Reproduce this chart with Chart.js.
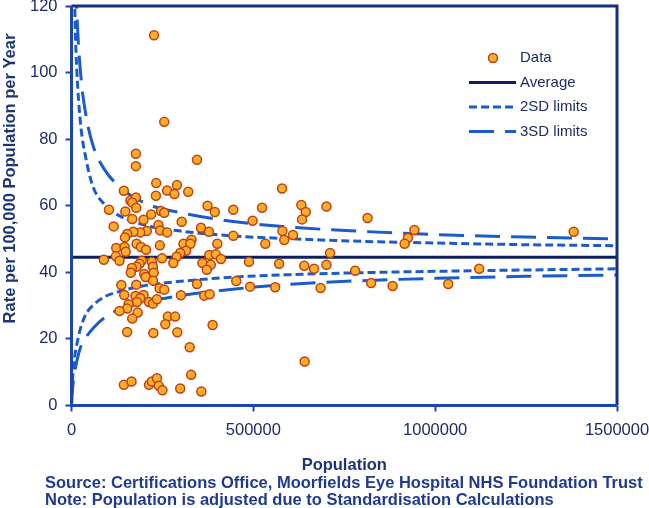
<!DOCTYPE html>
<html lang="en">

<head>
    <title>Funnel Plot</title>
    <script src="https://cdn.jsdelivr.net/npm/chart.js"></script>
    <style>
        html, body { margin: 0; padding: 0; background: #fff; }
    </style>
</head>

<body>
    <canvas id="myChart" width="649" height="508"></canvas>

    <script type="text/javascript">

        // observed points (population, rate per 100,000)
        const populations = [
            227000, 255000, 177000, 177000, 345000, 233000, 290000, 144000, 263000, 283000,
            321000, 232000, 162000, 177000, 167000, 178000, 103000, 148000, 246000, 255000,
            219000, 374000, 394000, 445000, 524000, 498000, 167000, 198000, 303000, 116000,
            239000, 356000, 378000, 244000, 263000, 207000, 189000, 170000, 153000, 147000,
            445000, 330000, 308000, 327000, 401000, 533000, 179000, 191000, 205000, 243000,
            123000, 146000, 149000, 315000, 299000, 122000, 289000, 379000, 397000, 411000,
            89000, 132000, 193000, 221000, 249000, 280000, 360000, 383000, 488000, 187000,
            179000, 166000, 163000, 224000, 226000, 200000, 204000, 372000, 579000, 632000,
            644000, 701000, 634000, 814000, 580000, 609000, 585000, 943000, 925000, 916000,
            711000, 571000, 640000, 667000, 701000, 780000, 1381000, 1121000, 491000, 560000,
            685000, 824000, 883000, 1036000, 224000, 137000, 178000, 145000, 176000, 198000,
            189000, 180000, 157000, 153000, 132000, 213000, 224000, 235000, 242000, 255000,
            345000, 301000, 365000, 380000, 453000, 182000, 167000, 265000, 285000, 258000,
            388000, 153000, 225000, 291000, 325000, 641000, 329000, 144000, 165000, 213000,
            221000, 235000, 240000, 250000, 299000, 357000
        ];
        const rates = [
            111.2, 85.2, 75.6, 71.9, 73.8, 66.8, 66.2, 64.5, 64.6, 63.5,
            64.2, 63.0, 61.6, 62.5, 61.0, 59.4, 58.8, 58.3, 58.4, 57.9,
            57.4, 60.0, 58.1, 58.8, 59.4, 55.5, 56.0, 55.8, 55.2, 53.8,
            54.2, 53.4, 52.2, 52.6, 52.0, 52.4, 52.0, 52.2, 51.5, 50.5,
            51.0, 49.8, 48.6, 48.6, 48.6, 48.6, 48.6, 47.6, 46.8, 48.1,
            47.3, 47.6, 46.2, 46.5, 45.8, 44.8, 44.7, 45.2, 45.4, 44.0,
            43.8, 43.5, 43.5, 43.2, 44.2, 42.8, 42.8, 42.3, 43.2, 42.6,
            41.7, 41.3, 39.9, 41.7, 39.9, 39.5, 38.6, 40.8, 65.2, 60.2,
            58.1, 59.8, 55.9, 56.3, 52.4, 51.2, 49.7, 52.7, 50.3, 48.6,
            45.8, 42.6, 42.0, 41.1, 42.3, 40.5, 52.2, 41.1, 35.7, 35.5,
            35.3, 36.8, 35.9, 36.5, 37.5, 36.2, 36.3, 33.2, 32.9, 33.2,
            32.2, 31.1, 30.4, 29.1, 28.4, 31.1, 30.6, 31.9, 35.2, 34.8,
            36.5, 33.1, 33.0, 33.4, 37.4, 27.9, 26.1, 26.7, 26.7, 24.4,
            24.2, 22.1, 21.8, 22.0, 17.5, 13.2, 9.2, 6.2, 7.2, 6.2,
            7.2, 8.2, 5.9, 4.6, 5.1, 4.2
        ];

        const averageRate = 44.5;
        const averagePop = [0, 1500000];

        // control limits
        const upperPop = [5000, 10000, 15000, 25000, 40000, 60000, 90000, 130000, 200000,
            300000, 450000, 600000, 800000, 1000000, 1250000, 1500000];
        const upper2SD = [148, 115, 100, 84.5, 74, 65.5, 60.5, 57.1, 54.2,
            52.4, 50.9, 50.1, 49.3, 48.8, 48.3, 48.0];
        const upper3SD = [170, 134.5, 117.2, 99.8, 87, 77.8, 71, 65.9, 60.9,
            57.9, 55.2, 53.6, 52.3, 51.35, 50.6, 50.0];

        const lowerPop = [0, 1000, 3000, 8000, 15000, 25000, 40000, 60000, 90000, 130000,
            200000, 300000, 450000, 600000, 800000, 1000000, 1250000, 1500000];
        const lower2SD = [0, 3, 8, 14, 18.5, 23.3, 27.5, 30.2, 32.6, 34.2,
            36.0, 37.3, 38.6, 39.3, 39.9, 40.3, 40.7, 41.05];
        const lower3SD = [0, 2, 5, 9.5, 13.5, 17.5, 20.5, 23.3, 26.3, 28.8,
            31.0, 33.0, 35.0, 36.4, 37.5, 38.2, 38.8, 39.2];

        const xTicks = [0, 500000, 1000000, 1500000];
        const yTicks = [0, 20, 40, 60, 80, 100, 120];

        const legendLabels = ['Data', 'Average', '2SD limits', '3SD limits'];
        const noteLines = [
            'Source: Certifications Office, Moorfields Eye Hospital NHS Foundation Trust',
            'Note: Population is adjusted due to Standardisation Calculations'
        ];

        const FONT = '"Liberation Sans", Arial, sans-serif';
        const NAVY = '#1b2c68';
        const LIMIT_BLUE = '#1b5bcc';
        const AVG_NAVY = '#0c205e';
        const PT_FILL = '#fbad2b';
        const PT_EDGE = '#c0400f';

        const pairs = (xs, ys) => xs.map((x, i) => ({ x: x, y: ys[i] }));

        const frameAndText = {
            id: 'frameAndText',
            afterDatasetsDraw(chart) {
                const { ctx, chartArea: { left, top, right, bottom } } = chart;
                ctx.save();
                ctx.lineWidth = 3;
                ctx.strokeStyle = '#14307f';
                ctx.beginPath();
                ctx.moveTo(left, top);
                ctx.lineTo(right, top);
                ctx.lineTo(right, bottom);
                ctx.stroke();
                ctx.strokeStyle = '#1c46ab';
                ctx.beginPath();
                ctx.moveTo(left, top);
                ctx.lineTo(left, bottom);
                ctx.lineTo(right, bottom);
                ctx.stroke();
                ctx.restore();
            },
            afterDraw(chart) {
                const ctx = chart.ctx;
                ctx.save();

                // legend inside plot
                const rows = [58, 82.5, 107, 131.5];
                const x0 = 469, x1 = 516;
                ctx.font = '15px ' + FONT;
                ctx.fillStyle = NAVY;
                ctx.textBaseline = 'middle';
                ctx.textAlign = 'left';
                legendLabels.forEach((label, i) => {
                    const y = rows[i];
                    if (i === 0) {
                        ctx.beginPath();
                        ctx.arc(493, y, 4.5, 0, Math.PI * 2);
                        ctx.fillStyle = PT_FILL;
                        ctx.fill();
                        ctx.lineWidth = 1.5;
                        ctx.strokeStyle = PT_EDGE;
                        ctx.stroke();
                    } else {
                        ctx.beginPath();
                        ctx.lineWidth = 3;
                        ctx.strokeStyle = i === 1 ? AVG_NAVY : LIMIT_BLUE;
                        ctx.setLineDash(i === 1 ? [] : (i === 2 ? [8, 4] : [25, 11]));
                        ctx.moveTo(x0, y);
                        ctx.lineTo(x1, y);
                        ctx.stroke();
                        ctx.setLineDash([]);
                    }
                    ctx.fillStyle = NAVY;
                    ctx.fillText(label, 520, y);
                });

                // y axis title
                ctx.save();
                ctx.translate(10, 178.5);
                ctx.rotate(-Math.PI / 2);
                ctx.font = 'bold 16.5px ' + FONT;
                ctx.fillStyle = '#1d3577';
                ctx.textAlign = 'center';
                ctx.textBaseline = 'middle';
                ctx.fillText('Rate per 100,000 Population per Year', 0, 0);
                ctx.restore();

                // source notes
                ctx.font = 'bold 16.5px ' + FONT;
                ctx.fillStyle = '#1f3a8f';
                ctx.textAlign = 'left';
                ctx.textBaseline = 'middle';
                ctx.fillText(noteLines[0], 45, 483);
                ctx.fillText(noteLines[1], 45, 500);

                ctx.restore();
            }
        };

        const limitLine = (label, xs, ys, dash) => ({
            label: label,
            data: pairs(xs, ys),
            showLine: true,
            pointRadius: 0,
            borderColor: LIMIT_BLUE,
            borderWidth: 3,
            borderDash: dash,
            fill: false,
            cubicInterpolationMode: 'monotone'
        });

        const ctx = document.getElementById('myChart');
        new Chart(ctx, {
            type: 'scatter',
            data: {
                datasets: [
                    {
                        label: 'Data',
                        data: pairs(populations, rates),
                        pointRadius: 4.5,
                        backgroundColor: PT_FILL,
                        borderColor: PT_EDGE,
                        borderWidth: 1.5
                    },
                    {
                        label: 'Average',
                        data: averagePop.map(x => ({ x: x, y: averageRate })),
                        showLine: true,
                        pointRadius: 0,
                        borderColor: AVG_NAVY,
                        borderWidth: 3
                    },
                    limitLine('2SD upper', upperPop, upper2SD, [8, 4]),
                    limitLine('2SD lower', lowerPop, lower2SD, [8, 4]),
                    limitLine('3SD upper', upperPop, upper3SD, [25, 11]),
                    limitLine('3SD lower', lowerPop, lower3SD, [25, 11])
                ]
            },
            options: {
                responsive: false,
                animation: false,
                layout: { padding: { top: 6, right: 32, bottom: 0, left: 0 } },
                plugins: {
                    legend: { display: false },
                    tooltip: { enabled: false }
                },
                scales: {
                    x: {
                        type: 'linear',
                        min: 0,
                        max: 1500000,
                        afterBuildTicks(scale) {
                            scale.ticks = xTicks.map(v => ({ value: v }));
                        },
                        afterFit(scale) {
                            scale.height = 102.5;
                            scale.paddingLeft = 0;
                            scale.paddingRight = 0;
                        },
                        grid: {
                            drawOnChartArea: false,
                            drawTicks: true,
                            tickLength: 6,
                            tickWidth: 2,
                            tickColor: '#1c46ab'
                        },
                        border: { display: false },
                        ticks: {
                            padding: 9,
                            maxRotation: 0,
                            color: NAVY,
                            font: { size: 16.5, family: FONT },
                            callback: v => String(v)
                        },
                        title: {
                            display: true,
                            text: 'Population',
                            color: '#1d3577',
                            font: { size: 16.5, weight: 'bold', family: FONT },
                            padding: { top: 0, bottom: 33 }
                        }
                    },
                    y: {
                        type: 'linear',
                        min: 0,
                        max: 120,
                        afterBuildTicks(scale) {
                            scale.ticks = yTicks.map(v => ({ value: v }));
                        },
                        afterFit(scale) {
                            scale.width = 71.5;
                            scale.paddingTop = 0;
                            scale.paddingBottom = 0;
                        },
                        grid: {
                            drawOnChartArea: false,
                            drawTicks: true,
                            tickLength: 6,
                            tickWidth: 2,
                            tickColor: '#1c46ab'
                        },
                        border: { display: false },
                        ticks: {
                            padding: 8,
                            color: NAVY,
                            font: { size: 16.5, family: FONT },
                            callback: v => String(v)
                        }
                    }
                }
            },
            plugins: [frameAndText]
        });
    </script>
</body>

</html>
